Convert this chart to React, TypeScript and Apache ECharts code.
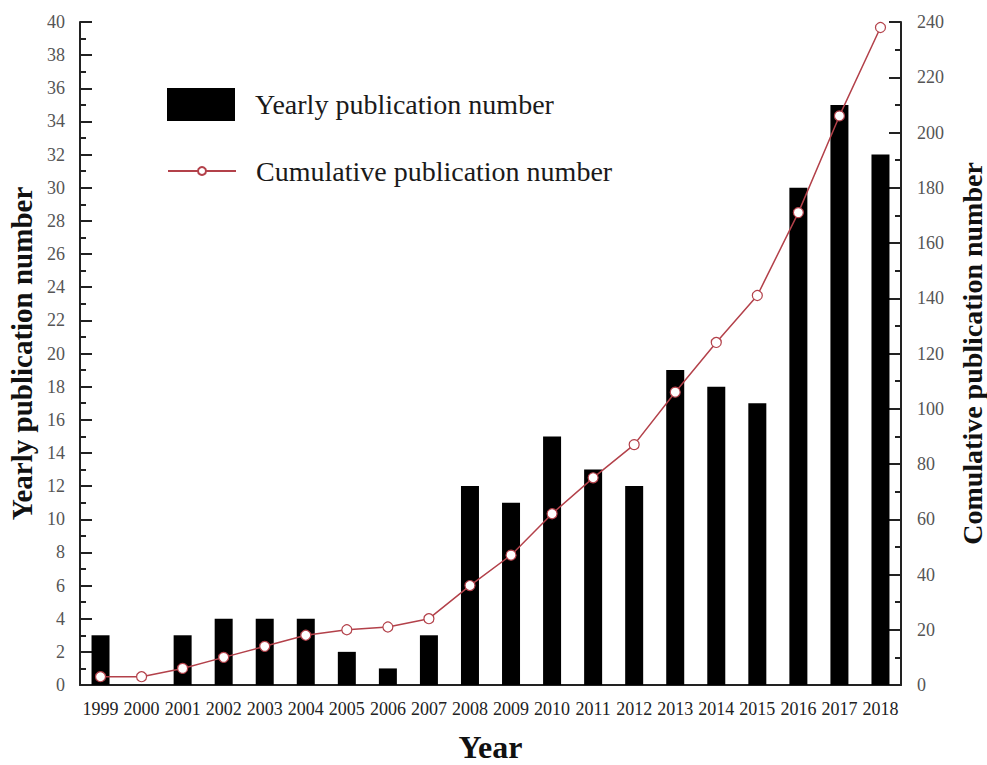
import React, { useEffect, useRef } from "react";
import * as echarts from "echarts";

const years = ["1999","2000","2001","2002","2003","2004","2005","2006","2007","2008","2009","2010","2011","2012","2013","2014","2015","2016","2017","2018"];
const yearly = [3, 0, 3, 4, 4, 4, 2, 1, 3, 12, 11, 15, 13, 12, 19, 18, 17, 30, 35, 32];
const cumulative = [3, 3, 6, 10, 14, 18, 20, 21, 24, 36, 47, 62, 75, 87, 106, 124, 141, 171, 206, 238];

const FONT = "'Liberation Serif', 'Times New Roman', serif";
const AXIS = "#222";
const LINE = "#b3414a";

export default function App() {
  const ref = useRef<HTMLDivElement>(null);
  useEffect(() => {
    document.body.style.margin = "0";
    document.body.style.overflow = "hidden";
    if (!ref.current) return;
    const chart = echarts.init(ref.current, undefined, { renderer: "svg" });
    chart.setOption({
      animation: false,
      backgroundColor: "#fff",
      legend: [
        {
          data: [{ name: "Yearly publication number", icon: "rect" }],
          left: 167,
          top: 88,
          padding: 0,
          itemWidth: 68,
          itemHeight: 33,
          selectedMode: false,
          textStyle: { fontFamily: FONT, fontSize: 28, color: "#1a1a1a", padding: [0, 0, 0, 15] },
        },
        {
          data: ["Cumulative publication number"],
          left: 167,
          top: 157,
          padding: 0,
          itemWidth: 68,
          itemHeight: 10,
          selectedMode: false,
          textStyle: { fontFamily: FONT, fontSize: 28, color: "#1a1a1a", padding: [0, 0, 0, 15] },
        },
      ],
      grid: { left: 80, right: 86, top: 22, bottom: 80, outerBoundsMode: "none", containLabel: false },
      xAxis: {
        type: "category",
        data: years,
        name: "Year",
        nameLocation: "middle",
        nameGap: 46,
        nameTextStyle: { fontFamily: FONT, fontSize: 32, fontWeight: "bold", color: "#111" },
        axisLine: { lineStyle: { color: AXIS, width: 2 } },
        axisTick: { inside: true, length: 6, lineStyle: { color: AXIS, width: 2 } },
        axisLabel: { interval: 0, fontFamily: FONT, fontSize: 18, color: "#222", margin: 15 },
        splitLine: { show: false },
      },
      yAxis: [
        {
          type: "value",
          min: 0,
          max: 40,
          interval: 2,
          name: "Yearly publication number",
          nameLocation: "middle",
          nameGap: 42,
          nameTextStyle: { fontFamily: FONT, fontSize: 29, fontWeight: "bold", color: "#111" },
          axisLine: { show: true, lineStyle: { color: AXIS, width: 2 } },
          axisTick: { show: true, inside: true, length: 12, lineStyle: { color: AXIS, width: 2 } },
          minorTick: { show: true, splitNumber: 2, length: 6, lineStyle: { color: AXIS, width: 2 } },
          axisLabel: { fontFamily: FONT, fontSize: 18, color: "#555", margin: 15 },
          splitLine: { show: false },
        },
        {
          type: "value",
          min: 0,
          max: 240,
          interval: 20,
          position: "right",
          name: "Comulative publication number",
          nameLocation: "middle",
          nameGap: 57,
          nameTextStyle: { fontFamily: FONT, fontSize: 28, fontWeight: "bold", color: "#111" },
          axisLine: { show: true, lineStyle: { color: AXIS, width: 2 } },
          axisTick: { show: true, inside: true, length: 12, lineStyle: { color: AXIS, width: 2 } },
          minorTick: { show: true, splitNumber: 2, length: 6, lineStyle: { color: AXIS, width: 2 } },
          axisLabel: { fontFamily: FONT, fontSize: 18, color: "#555", margin: 16 },
          splitLine: { show: false },
        },
      ],
      series: [
        {
          name: "Yearly publication number",
          type: "bar",
          yAxisIndex: 0,
          data: yearly,
          barWidth: 18,
          itemStyle: { color: "#000" },
        },
        {
          name: "Cumulative publication number",
          type: "line",
          yAxisIndex: 1,
          data: cumulative,
          symbol: "circle",
          symbolSize: 10,
          lineStyle: { color: LINE, width: 1.5 },
          itemStyle: { color: "#fff", borderColor: LINE, borderWidth: 1.2 },
          z: 5,
        },
      ],
    });
    return () => chart.dispose();
  }, []);
  return <div ref={ref} style={{ width: 987, height: 765 }} />;
}
